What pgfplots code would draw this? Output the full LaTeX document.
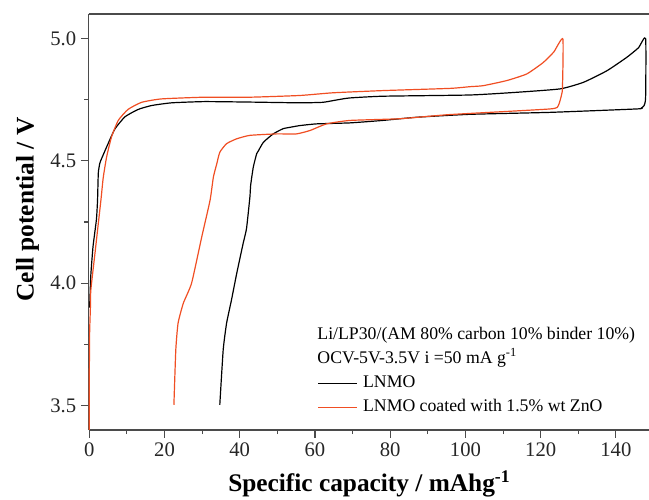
\documentclass[border=0pt]{standalone}
\usepackage{fontspec}
\setmainfont{Liberation Serif}
\usepackage{pgfplots}
\pgfplotsset{compat=1.18}
\definecolor{zno}{RGB}{240,78,35}
\definecolor{axgray}{RGB}{75,75,75}

\begin{document}
\begin{tikzpicture}
\begin{axis}[
  scale only axis, width=420.4pt, height=312pt,
  xmin=-0.2, xmax=148.8, ymin=3.4, ymax=5.1,
  clip=false,
  axis x line*=bottom, axis y line*=left,
  axis line style={axgray, line width=0.9pt, -},
  xtick={0,20,...,140}, ytick={3.5,4.0,4.5,5.0},
  minor xtick={10,30,...,130}, minor ytick={3.75,4.25,4.75},
  tick align=outside, major tick length=5.7pt, minor tick length=3.2pt,
  tick style={axgray, line width=0.8pt},
  yticklabel style={/pgf/number format/.cd, fixed, fixed zerofill, precision=1},
  /pgf/number format/assume math mode=true,
  ticklabel style={font=\fontsize{15.5}{17}\selectfont, text=black!85},
  label style={font=\bfseries\fontsize{19}{21}\selectfont},
  xlabel={Specific capacity / mAhg\textsuperscript{-1}},
  ylabel={Cell potential / V},
  x label style={at={(axis description cs:0.501,0)}, anchor=base, yshift=-46pt},
  y label style={at={(axis description cs:-0.109,0.53)}, anchor=center},
  legend style={draw=none, fill=none, at={(axis description cs:0.408,0.133)}, anchor=north west,
    font=\fontsize{13.3}{14}\selectfont, inner sep=0pt, column sep=3.75pt, row sep=5.5pt,
    nodes={inner sep=0pt, text height=9.5pt, text depth=3pt}},
  legend cell align=left,
  legend image code/.code={\draw[#1, line width=1pt] (0pt,0pt) -- (29.5pt,0pt);},
]
\addplot[black, line width=0.9pt, smooth, tension=0.3] coordinates {
  (0.1,3.90) (0.4,4.03) (1.0,4.15) (1.9,4.26) (2.2,4.34) (2.4,4.45) (2.8,4.49)
  (3.3,4.51) (5.0,4.57) (6.8,4.63) (9.5,4.68) (13,4.71) (16.6,4.726) (21.9,4.737)
  (30.7,4.742) (42.8,4.740) (56,4.737) (62,4.739) (64.8,4.746) (67,4.752) (69.3,4.757)
  (78.1,4.764) (101.2,4.769) (113.6,4.780) (125.2,4.794) (131.4,4.821) (137.6,4.868)
  (142.9,4.923) (146,4.962) (147.9,5.0)
  (147.9,4.76) (147.5,4.726) (146.8,4.716) (145.6,4.712) (122.5,4.698) (101.2,4.690)
  (87,4.678) (78,4.665) (69.3,4.655) (60.5,4.651) (56,4.644) (53.4,4.637) (51.5,4.631)
  (48.9,4.610) (46.3,4.576) (45,4.542) (44.5,4.529) (43.6,4.474) (42.9,4.40)
  (42.7,4.352) (41.8,4.223) (40.9,4.162) (39.2,4.04) (37.8,3.931) (36.5,3.836)
  (35.6,3.727) (34.7,3.503)
};
\addlegendentry{LNMO}
\addplot[zno, line width=0.9pt, smooth, tension=0.3] coordinates {
  (0,3.40) (0,3.60) (0.1,3.80) (0.3,3.90) (0.4,3.97) (1.5,4.12) (3.1,4.34) (3.7,4.43)
  (4.6,4.515) (5.9,4.597) (7.7,4.665) (10.3,4.710) (13.9,4.739) (19.2,4.753)
  (30.7,4.760) (42.8,4.760) (56,4.767) (64.8,4.778) (78.1,4.787) (95.9,4.796)
  (101.2,4.803) (104.7,4.807) (111,4.828) (116.3,4.855) (120.7,4.902) (123.5,4.945)
  (125.9,4.998)
  (125.8,4.80) (125.6,4.773) (124.7,4.726) (122.5,4.712) (95.9,4.689) (82.6,4.672)
  (69.3,4.665) (63.1,4.651) (58.7,4.624) (55.1,4.610) (49.8,4.610) (42.7,4.604)
  (39.2,4.590) (36.5,4.570) (34.7,4.535) (33.9,4.488) (33,4.434) (32.1,4.338)
  (29.9,4.189) (27.2,4.0) (25,3.918) (23.6,3.836) (23,3.727) (22.5,3.503)
};
\addlegendentry{LNMO coated with 1.5\% wt ZnO}
\draw[axgray, line width=0.9pt] (rel axis cs:0,1) -- (rel axis cs:1,1);
\node[anchor=base west, font=\fontsize{13.3}{14}\selectfont, inner sep=0pt]
  at (axis description cs:0.408,0.218) {Li/LP30/(AM 80\% carbon 10\% binder 10\%)};
\node[anchor=base west, font=\fontsize{13.3}{14}\selectfont, inner sep=0pt]
  at (axis description cs:0.408,0.160) {OCV-5V-3.5V i =50 mA g\textsuperscript{-1}};
\end{axis}
\pgfresetboundingbox
\path ([shift={(-66.4pt,-52.5pt)}]current axis.south west) rectangle ([shift={(0pt,10.5pt)}]current axis.north east);
\end{tikzpicture}
\end{document}
